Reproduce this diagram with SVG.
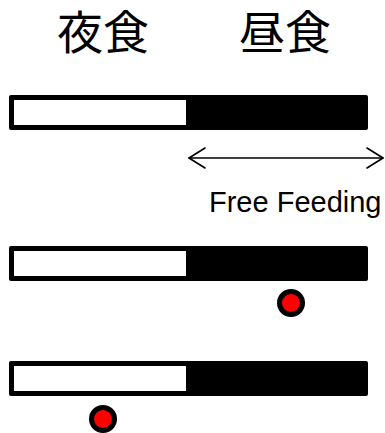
<svg xmlns="http://www.w3.org/2000/svg" width="385" height="433" viewBox="0 0 385 433">
<style>
.title{font-family:"Liberation Sans","Noto Sans CJK JP",sans-serif;font-size:46px;fill:#000}
.lbl{font-family:"Liberation Sans",Arial,sans-serif;font-size:29px;fill:#000}
.barOuter{fill:#000}
.barInner{fill:#fff}
.dot{fill:#ff0000;stroke:#000;stroke-width:5}
.arr{fill:none;stroke:#000;stroke-width:1.6;stroke-linecap:round;stroke-linejoin:round}
</style>
<rect width="385" height="433" fill="#fff"/>
<g id="title-night"><text class="title" x="57" y="49">夜食</text></g>
<g id="title-day"><text class="title" x="239" y="49">昼食</text></g>
<g id="bar1">
<rect class="barOuter" x="9" y="95" width="359" height="35" rx="2"/>
<rect class="barInner" x="14" y="100" width="172" height="25"/>
</g>
<g id="bar2">
<rect class="barOuter" x="9" y="246" width="359" height="35" rx="2"/>
<rect class="barInner" x="14" y="251" width="172" height="25"/>
</g>
<g id="bar3">
<rect class="barOuter" x="9" y="361" width="359" height="35" rx="2"/>
<rect class="barInner" x="14" y="366" width="172" height="25"/>
</g>
<g id="dot1"><circle class="dot" cx="291" cy="303" r="11.5"/></g>
<g id="dot2"><circle class="dot" cx="103" cy="419" r="11.5"/></g>
<g id="label"><text class="lbl" x="209" y="212">Free Feeding</text></g>
<g id="connectors">
<line class="arr" x1="189" y1="158" x2="383" y2="158"/>
<polyline class="arr" points="205,148 189,158 205,168"/>
<polyline class="arr" points="367,148 383,158 367,168"/>
</g>
</svg>
